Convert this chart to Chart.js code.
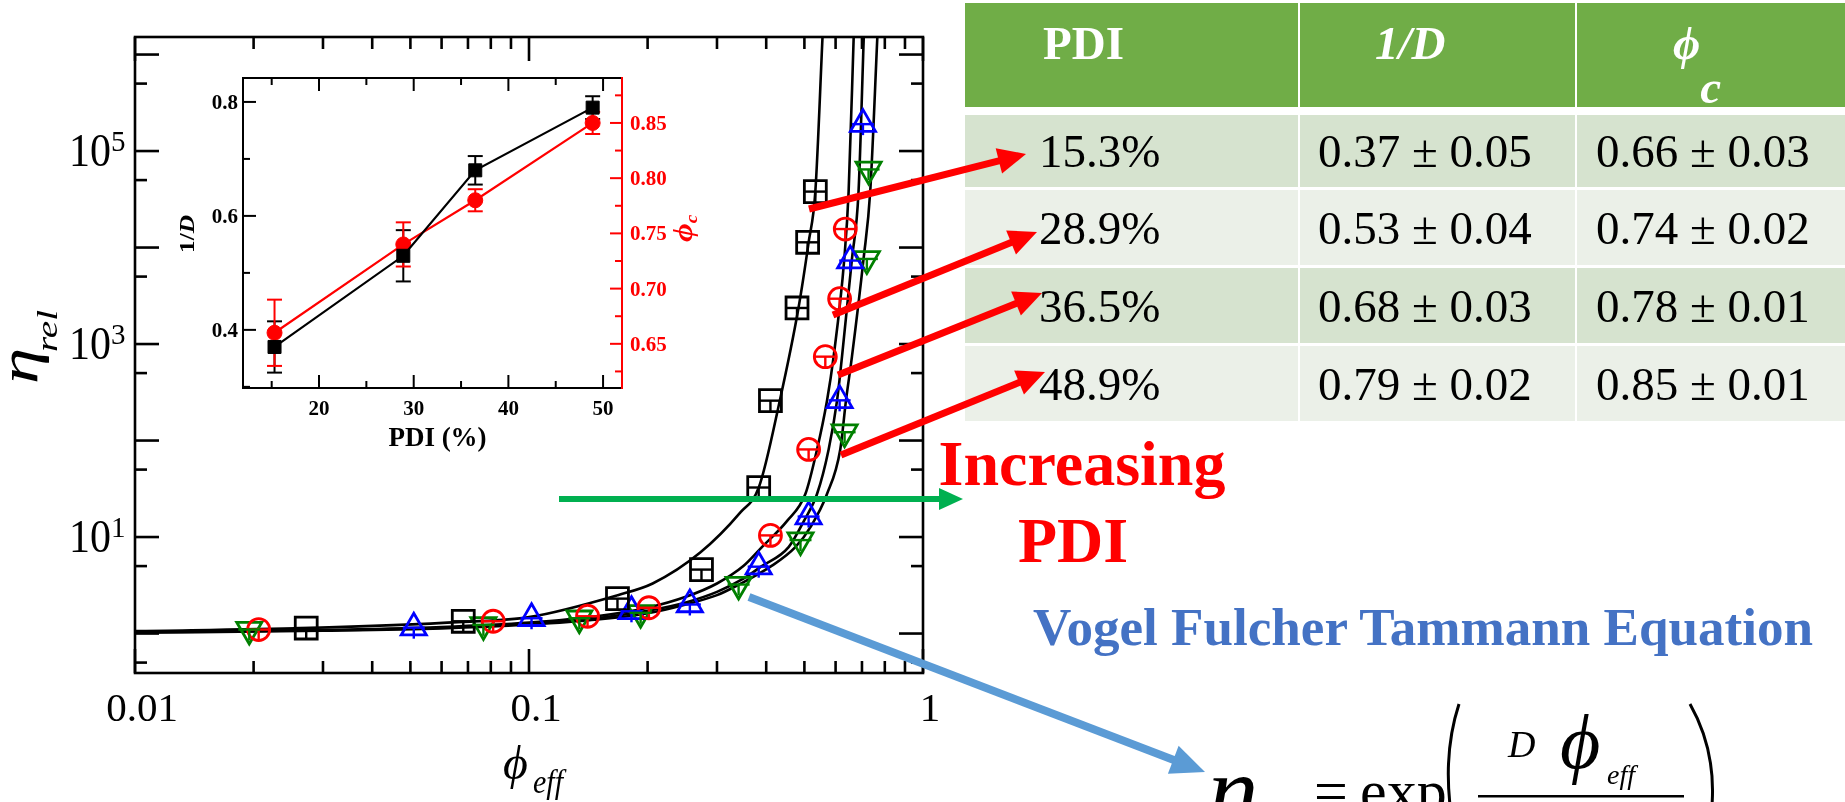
<!DOCTYPE html>
<html lang="en">
<head>
<meta charset="utf-8">
<title>Relative viscosity vs effective volume fraction</title>
<script src="https://cdn.jsdelivr.net/npm/chart.js@4.4.1/dist/chart.umd.min.js"></script>
<style>
  html, body { margin: 0; padding: 0; background: #fff; }
  body { position: relative; width: 1845px; height: 802px; overflow: hidden;
         font-family: "Liberation Serif", "Times New Roman", "DejaVu Serif", serif; }
  canvas, svg { position: absolute; }
  #mainChart { left: 0; top: 0; }
  #insetChart { left: 180px; top: 60px; }
  #overlay { left: 0; top: 0; }
  #pdiTable { position: absolute; left: 965px; top: 3px; display: grid;
    grid-template-columns: 333px 275px 270px;
    grid-template-rows: 109px 72px 75px 75px 75px;
    column-gap: 2px; row-gap: 3px; }
  .cell { display: flex; align-items: center; font-size: 47px; white-space: nowrap; box-sizing: border-box; }
  .head { background: #70ad47; color: #fff; font-weight: bold; align-items: flex-start;
          margin-bottom: 5px; padding-top: 17px; line-height: 47px; }
  .odd { background: #d6e3cf; }
  .even { background: #ebf0e8; }
  .c1 { padding-left: 74px; } .c2 { padding-left: 18px; } .c3 { padding-left: 19px; }
  .head.c1 { padding-left: 78px; } .head.c2 { padding-left: 75px; } .head.c3 { padding-left: 96px; }
  .sub { position: relative; top: 44px; }
</style>
</head>
<body>
<canvas id="mainChart" width="1845" height="802"></canvas>
<canvas id="insetChart" width="520" height="420"></canvas>
<div id="pdiTable"></div>
<svg id="overlay" width="1845" height="802" xmlns="http://www.w3.org/2000/svg">
  <g id="arrowLayer"></g>
  <text x="1082" y="485" font-size="64" font-weight="bold" fill="#ff0000" text-anchor="middle">Increasing</text>
  <text x="1073" y="562" font-size="64" font-weight="bold" fill="#ff0000" text-anchor="middle">PDI</text>
  <text x="1033" y="645" font-size="52" font-weight="bold" fill="#4472c4" textLength="780" lengthAdjust="spacingAndGlyphs">Vogel Fulcher Tammann Equation</text>
  <g font-style="italic" fill="#000">
    <text x="1208" y="824" font-size="100">η</text>
    <text x="1508" y="757" font-size="38">D</text>
    <text x="1560" y="768" font-size="78">ϕ</text>
    <text x="1607" y="784" font-size="28">eff</text>
  </g>
  <text x="1314" y="811" font-size="60">=</text>
  <text x="1360" y="811" font-size="60">exp</text>
  <path d="M1459 704 Q1444 750 1450 805" stroke="#000" stroke-width="3" fill="none"/>
  <path d="M1690 704 Q1716 750 1712 805" stroke="#000" stroke-width="3" fill="none"/>
  <rect x="1478" y="795" width="206" height="2.5" fill="#000"/>
</svg>

<script>
// ---- main plot: relative viscosity vs effective volume fraction ----
const xTickLabels = ['0.01', '0.1', '1'];
const xTickValues = [0.01, 0.1, 1];
const yLabelExponents = [1, 3, 5];

// measured points, one array pair per PDI
const phi153 = [0.0272, 0.0681, 0.1677, 0.274, 0.3828, 0.410, 0.4789, 0.5095, 0.533];
const eta153 = [1.14, 1.34, 2.30, 4.6, 32.6, 259, 2365, 11330, 38000];
const phi289 = [0.0206, 0.0811, 0.1408, 0.2015, 0.410, 0.5125, 0.565, 0.6143, 0.635];
const eta289 = [1.10, 1.34, 1.51, 1.85, 10.4, 80.9, 740, 2950, 15550];
const phi365 = [0.0510, 0.1015, 0.182, 0.256, 0.3828, 0.5125, 0.6143, 0.6535, 0.704];
const eta365 = [1.15, 1.44, 1.70, 2.0, 4.93, 16.3, 261, 7330, 190000];
const phi489 = [0.0195, 0.0766, 0.1342, 0.192, 0.3404, 0.4887, 0.6324, 0.7203, 0.7275];
const eta489 = [1.10, 1.23, 1.44, 1.64, 3.22, 9.3, 122, 7620, 64500];

// fitted curves
const fitPhi153 = [0.01, 0.027, 0.068, 0.1, 0.168, 0.206, 0.272, 0.344, 0.383, 0.433, 0.483, 0.5125, 0.533, 0.556];
const fitEta153 = [1.06, 1.14, 1.32, 1.48, 2.5, 3.3, 6.9, 18.0, 32.6, 259, 2364, 11320, 38000, 1.55e6];
const fitPhi289 = [0.01, 0.03, 0.06, 0.1, 0.15, 0.2, 0.25, 0.3, 0.35, 0.39, 0.452, 0.5028, 0.5383, 0.5706, 0.5931, 0.6313, 0.6475, 0.667];
const fitEta289 = [1.04, 1.09, 1.17, 1.30, 1.52, 1.85, 2.4, 3.3, 5.0, 7.86, 14.7, 27.9, 80.9, 259, 741, 7620, 38000, 1.55e6];
const fitPhi365 = [0.01, 0.03, 0.06, 0.1, 0.15, 0.2, 0.25, 0.3, 0.35, 0.388, 0.456, 0.5, 0.5383, 0.5761, 0.6051, 0.6229, 0.6602, 0.6861, 0.7075];
const fitEta365 = [1.03, 1.08, 1.15, 1.27, 1.45, 1.72, 2.1, 2.7, 3.7, 4.93, 7.86, 15, 27.9, 80.9, 259, 741, 7620, 38000, 1.55e6];
const fitPhi489 = [0.01, 0.03, 0.06, 0.1, 0.15, 0.2, 0.25, 0.3, 0.34, 0.41, 0.4742, 0.52, 0.5706, 0.6166, 0.6375, 0.6602, 0.7065, 0.7346, 0.766];
const fitEta489 = [1.02, 1.07, 1.13, 1.24, 1.40, 1.62, 2.0, 2.5, 3.2, 4.93, 7.86, 13, 27.9, 80.9, 259, 741, 7620, 38000, 1.55e6];

// ---- inset: fit parameters vs PDI ----
const pdiPercent = [15.3, 28.9, 36.5, 48.9];
const invD = [0.37, 0.53, 0.68, 0.79];
const invDErr = [0.045, 0.045, 0.025, 0.02];
const phiC = [0.66, 0.74, 0.78, 0.85];
const phiCErr = [0.03, 0.02, 0.01, 0.01];
const insetXLabels = [20, 30, 40, 50];
const insetLeftLabels = [0.4, 0.6, 0.8];
const insetRightLabels = [0.65, 0.70, 0.75, 0.80, 0.85];

// ---- table ----
const tablePdi = ['15.3%', '28.9%', '36.5%', '48.9%'];
const tableInvD = ['0.37 ± 0.05', '0.53 ± 0.04', '0.68 ± 0.03', '0.79 ± 0.02'];
const tablePhiC = ['0.66 ± 0.03', '0.74 ± 0.02', '0.78 ± 0.01', '0.85 ± 0.01'];

const SERIF = '"Liberation Serif", "Times New Roman", "DejaVu Serif", serif';
const pts = (xs, ys) => xs.map((x, i) => ({ x, y: ys[i] }));

function text(ctx, s, x, y, o) {
  ctx.save();
  ctx.translate(x, y);
  if (o.rot) ctx.rotate(o.rot);
  ctx.scale(o.sx || 1, o.sy || 1);
  ctx.font = o.font;
  ctx.fillStyle = o.color || '#000';
  ctx.textAlign = o.align || 'left';
  ctx.textBaseline = 'alphabetic';
  ctx.fillText(s, 0, 0);
  const w = ctx.measureText(s).width * (o.sx || 1);
  ctx.restore();
  return w;
}

function seg(ctx, x1, y1, x2, y2) {
  ctx.beginPath();
  ctx.moveTo(x1, y1);
  ctx.lineTo(x2, y2);
  ctx.stroke();
}

// box, inward ticks, tick labels and axis titles of the main plot
const mainFrame = {
  id: 'mainFrame',
  afterDraw(chart) {
    const { ctx, chartArea: a } = chart;
    const xs = chart.scales.x, ys = chart.scales.y;
    ctx.save();
    ctx.strokeStyle = '#000';
    ctx.lineWidth = 2.6;
    for (let e = -2; e <= 0; e++) {
      for (let k = 1; k <= 9; k++) {
        const v = k * Math.pow(10, e);
        if (v > 1.0001) break;
        const px = xs.getPixelForValue(v);
        const len = k === 1 ? 24 : 12;
        seg(ctx, px, a.bottom, px, a.bottom - len);
        seg(ctx, px, a.top, px, a.top + len);
      }
    }
    for (let e = -1; e <= 6; e++) {
      [[1, 24], [5, 12]].forEach(([k, len]) => {
        const v = k * Math.pow(10, e);
        if (v < ys.min || v > ys.max) return;
        const py = ys.getPixelForValue(v);
        seg(ctx, a.left, py, a.left + len, py);
        seg(ctx, a.right, py, a.right - len, py);
      });
    }
    ctx.strokeRect(a.left, a.top, a.right - a.left, a.bottom - a.top);

    xTickValues.forEach((v, i) => {
      text(ctx, xTickLabels[i], xs.getPixelForValue(v) + 7, a.bottom + 48,
        { font: `41px ${SERIF}`, align: 'center' });
    });
    yLabelExponents.forEach(e => {
      const py = ys.getPixelForValue(Math.pow(10, e));
      text(ctx, '10', 111, py + 15, { font: `42px ${SERIF}`, align: 'right', sy: 1.1 });
      text(ctx, String(e), 111, py, { font: `29px ${SERIF}` });
    });

    text(ctx, 'η', 37, 384, { font: `italic 54px ${SERIF}`, rot: -Math.PI / 2, sx: 1.35 });
    text(ctx, 'rel', 57, 352, { font: `italic 29px ${SERIF}`, rot: -Math.PI / 2, sx: 1.35 });
    text(ctx, 'ϕ', 503, 779, { font: `italic 48px ${SERIF}` });
    text(ctx, 'eff', 533, 793, { font: `italic 30px ${SERIF}`, sy: 1.1 });
    ctx.restore();
  }
};

// small error-bar cross drawn inside each open marker
const markerCross = {
  id: 'markerCross',
  afterDatasetsDraw(chart) {
    const ctx = chart.ctx;
    chart.data.datasets.forEach((ds, i) => {
      if (!ds.crossSize) return;
      const meta = chart.getDatasetMeta(i);
      ctx.save();
      ctx.strokeStyle = ds.pointBorderColor;
      ctx.lineWidth = 2.4;
      meta.data.forEach(pt => {
        seg(ctx, pt.x - ds.crossSize, pt.y, pt.x + ds.crossSize, pt.y);
        seg(ctx, pt.x, pt.y, pt.x, pt.y + ds.crossSize);
      });
      ctx.restore();
    });
  }
};

function markerSet(xs, ys, color, style, radius, rotation) {
  return {
    data: pts(xs, ys), showLine: false, pointStyle: style, pointRadius: radius,
    pointRotation: rotation || 0, pointBorderColor: color, pointBackgroundColor: 'rgba(0,0,0,0)',
    pointBorderWidth: 2.8, crossSize: 11
  };
}
function fitLine(xs, ys) {
  return {
    data: pts(xs, ys), showLine: true, pointRadius: 0, borderColor: '#000', borderWidth: 2.6,
    cubicInterpolationMode: 'monotone', fill: false, clip: 0
  };
}

new Chart(document.getElementById('mainChart'), {
  type: 'scatter',
  data: {
    datasets: [
      markerSet(phi153, eta153, '#000000', 'rect', 15.5),
      markerSet(phi289, eta289, '#ff0000', 'circle', 11),
      markerSet(phi365, eta365, '#0000ff', 'triangle', 14.5),
      markerSet(phi489, eta489, '#008000', 'triangle', 14.5, 180),
      fitLine(fitPhi153, fitEta153),
      fitLine(fitPhi289, fitEta289),
      fitLine(fitPhi365, fitEta365),
      fitLine(fitPhi489, fitEta489)
    ]
  },
  options: {
    responsive: false,
    animation: false,
    events: [],
    layout: { padding: { left: 135, right: 922, top: 37, bottom: 129 } },
    plugins: { legend: { display: false }, tooltip: { enabled: false } },
    scales: {
      x: { type: 'logarithmic', min: 0.01, max: 1, display: false },
      y: { type: 'logarithmic', min: 0.39, max: 1.52e6, display: false }
    }
  },
  plugins: [mainFrame, markerCross]
});

// ---- inset ----
const insetErrors = {
  id: 'insetErrors',
  beforeDatasetsDraw(chart) {
    const ctx = chart.ctx;
    chart.data.datasets.forEach((ds, i) => {
      const meta = chart.getDatasetMeta(i);
      const sc = chart.scales[ds.yAxisID];
      ctx.save();
      ctx.strokeStyle = ds.borderColor;
      ctx.lineWidth = 2;
      meta.data.forEach((pt, j) => {
        const v = ds.data[j].y, e = ds.errors[j];
        const top = sc.getPixelForValue(v + e), bot = sc.getPixelForValue(v - e);
        seg(ctx, pt.x, top, pt.x, bot);
        seg(ctx, pt.x - 7.5, top, pt.x + 7.5, top);
        seg(ctx, pt.x - 7.5, bot, pt.x + 7.5, bot);
      });
      ctx.restore();
    });
  }
};

const insetFrame = {
  id: 'insetFrame',
  afterDraw(chart) {
    const { ctx, chartArea: a } = chart;
    const { x, y, y2 } = chart.scales;
    ctx.save();
    ctx.lineWidth = 2;
    ctx.strokeStyle = '#000';
    ctx.beginPath();
    ctx.moveTo(a.right, a.top); ctx.lineTo(a.left, a.top);
    ctx.lineTo(a.left, a.bottom); ctx.lineTo(a.right, a.bottom);
    ctx.stroke();
    for (let v = 15; v <= 50; v += 5) {
      const px = x.getPixelForValue(v), len = v % 10 === 0 ? 13 : 7;
      seg(ctx, px, a.bottom, px, a.bottom - len);
      seg(ctx, px, a.top, px, a.top + len);
    }
    for (let k = 3; k <= 8; k++) {
      const v = k / 10;
      if (v < y.min) continue;
      const py = y.getPixelForValue(v);
      seg(ctx, a.left, py, a.left + (k % 2 === 0 ? 13 : 7), py);
    }
    ctx.strokeStyle = '#ff0000';
    seg(ctx, a.right, a.top - 1, a.right, a.bottom + 1);
    for (let k = 125; k <= 175; k += 5) {
      const py = y2.getPixelForValue(k / 200);
      seg(ctx, a.right, py, a.right - (k % 10 === 0 ? 12 : 7), py);
    }

    insetXLabels.forEach(v => text(ctx, String(v), x.getPixelForValue(v), a.bottom + 27,
      { font: `bold 21px ${SERIF}`, align: 'center' }));
    insetLeftLabels.forEach(v => text(ctx, v.toFixed(1), a.left - 5, y.getPixelForValue(v) + 7,
      { font: `bold 21px ${SERIF}`, align: 'right' }));
    insetRightLabels.forEach(v => text(ctx, v.toFixed(2), a.right + 8, y2.getPixelForValue(v) + 7,
      { font: `bold 21px ${SERIF}`, color: '#ff0000' }));
    text(ctx, 'PDI (%)', (a.left + a.right) / 2 + 5, a.bottom + 58,
      { font: `bold 27px ${SERIF}`, align: 'center' });

    const w = text(ctx, '1/', 14, 193, { font: `bold 22px ${SERIF}`, rot: -Math.PI / 2, sx: 1.15 });
    text(ctx, 'D', 14, 193 - w, { font: `bold italic 22px ${SERIF}`, rot: -Math.PI / 2, sx: 1.15 });
    const w2 = text(ctx, 'ϕ', 512, 182, { font: `bold italic 27px ${SERIF}`, rot: -Math.PI / 2, sx: 1.2, color: '#ff0000' });
    text(ctx, 'c', 517, 182 - w2, { font: `bold italic 16px ${SERIF}`, rot: -Math.PI / 2, sx: 1.2, color: '#ff0000' });
    ctx.restore();
  }
};

new Chart(document.getElementById('insetChart'), {
  type: 'scatter',
  data: {
    datasets: [
      { data: pts(pdiPercent, invD), yAxisID: 'y', showLine: true, borderColor: '#000000', borderWidth: 2.2,
        pointStyle: 'rect', pointRadius: 9.2, pointBackgroundColor: '#000000', pointBorderColor: '#000000',
        pointBorderWidth: 1, errors: invDErr },
      { data: pts(pdiPercent, phiC), yAxisID: 'y2', showLine: true, borderColor: '#ff0000', borderWidth: 2.2,
        pointStyle: 'circle', pointRadius: 7.5, pointBackgroundColor: '#ff0000', pointBorderColor: '#ff0000',
        pointBorderWidth: 1, errors: phiCErr }
    ]
  },
  options: {
    responsive: false,
    animation: false,
    events: [],
    layout: { padding: { left: 63, right: 78, top: 18, bottom: 92 } },
    plugins: { legend: { display: false }, tooltip: { enabled: false } },
    scales: {
      x: { type: 'linear', min: 11.97, max: 52, display: false },
      y: { type: 'linear', min: 0.298, max: 0.842, display: false },
      y2: { type: 'linear', min: 0.61, max: 0.8907, display: false }
    }
  },
  plugins: [insetErrors, insetFrame]
});

// ---- table ----
const table = document.getElementById('pdiTable');
function addCell(html, cls) {
  const d = document.createElement('div');
  d.className = 'cell ' + cls;
  d.innerHTML = html;
  table.appendChild(d);
}
addCell('PDI', 'head c1');
addCell('<i>1/D</i>', 'head c2');
addCell('<i>ϕ</i><i class="sub">c</i>', 'head c3');
tablePdi.forEach((p, i) => {
  const band = i % 2 === 0 ? 'odd' : 'even';
  addCell(p, band + ' c1');
  addCell(tableInvD[i], band + ' c2');
  addCell(tablePhiC[i], band + ' c3');
});

// ---- annotation arrows ----
const arrowSpecs = [
  { from: [809, 209], to: [1026, 154], color: '#ff0000', width: 7, head: 28, half: 13 },
  { from: [833, 315], to: [1037, 232], color: '#ff0000', width: 7, head: 28, half: 13 },
  { from: [838, 375], to: [1042, 293], color: '#ff0000', width: 7, head: 28, half: 13 },
  { from: [841, 455], to: [1045, 372], color: '#ff0000', width: 7, head: 28, half: 13 },
  { from: [559, 499], to: [963, 499], color: '#00b050', width: 6, head: 24, half: 11 },
  { from: [749, 597], to: [1205, 772], color: '#5b9bd5', width: 8, head: 34, half: 15 }
];
const NS = 'http://www.w3.org/2000/svg';
const arrowLayer = document.getElementById('arrowLayer');
arrowSpecs.forEach(a => {
  const [x1, y1] = a.from, [x2, y2] = a.to;
  const L = Math.hypot(x2 - x1, y2 - y1), ux = (x2 - x1) / L, uy = (y2 - y1) / L;
  const bx = x2 - ux * a.head, by = y2 - uy * a.head;
  const ln = document.createElementNS(NS, 'line');
  ln.setAttribute('x1', x1); ln.setAttribute('y1', y1);
  ln.setAttribute('x2', bx + ux * 2); ln.setAttribute('y2', by + uy * 2);
  ln.setAttribute('stroke', a.color); ln.setAttribute('stroke-width', a.width);
  arrowLayer.appendChild(ln);
  const hd = document.createElementNS(NS, 'polygon');
  hd.setAttribute('points', [
    [x2, y2], [bx - uy * a.half, by + ux * a.half], [bx + uy * a.half, by - ux * a.half]
  ].map(p => p.join(',')).join(' '));
  hd.setAttribute('fill', a.color);
  arrowLayer.appendChild(hd);
});
</script>
</body>
</html>
